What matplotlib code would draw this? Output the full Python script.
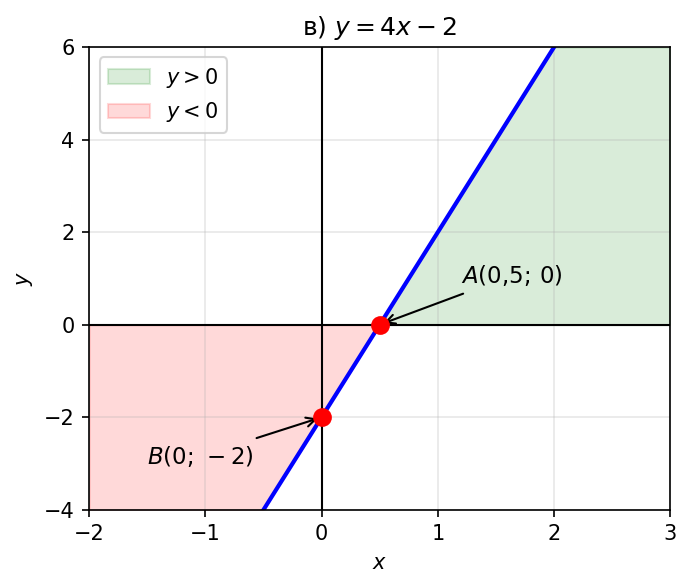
import numpy as np
import matplotlib
matplotlib.use("Agg")
import matplotlib.pyplot as plt

# Функция y = 4x - 2
k = 4
b = -2
x_range = [-2, 3]
y_range = [-4, 6]
point_A = (0.5, 0)
point_B = (0, -2)

x = np.linspace(x_range[0], x_range[1], 400)
y = k * x + b

fig, ax = plt.subplots(figsize=(4.607, 3.92), dpi=150)
fig.subplots_adjust(left=0.129, right=0.970, top=0.920, bottom=0.133)

# Области знакопостоянства
xp = x[x >= point_A[0]]
ax.fill_between(xp, 0, np.minimum(k * xp + b, y_range[1]), color="green", alpha=0.15, label="$y > 0$")
xn = x[x <= point_A[0]]
ax.fill_between(xn, np.maximum(k * xn + b, y_range[0]), 0, color="red", alpha=0.15, label="$y < 0$")

ax.plot(x, y, color="blue", linewidth=2)
ax.axhline(0, color="black", linewidth=1)
ax.axvline(0, color="black", linewidth=1)

ax.plot(*point_A, "ro", markersize=8, zorder=5)
ax.plot(*point_B, "ro", markersize=8, zorder=5)

ax.annotate("$A(0{,}5;\\, 0)$", xy=point_A, xytext=(1.2, 0.9), fontsize=11,
            arrowprops=dict(arrowstyle="->", color="black"))
ax.annotate("$B(0;\\, -2)$", xy=point_B, xytext=(-1.5, -3.0), fontsize=11,
            arrowprops=dict(arrowstyle="->", color="black"))

ax.set_xlim(*x_range)
ax.set_ylim(*y_range)
ax.set_xlabel("$x$")
ax.set_ylabel("$y$")
ax.set_title("в) $y = 4x - 2$")
ax.grid(True, alpha=0.3)
ax.legend(loc="upper left")

plt.savefig("out.png")
